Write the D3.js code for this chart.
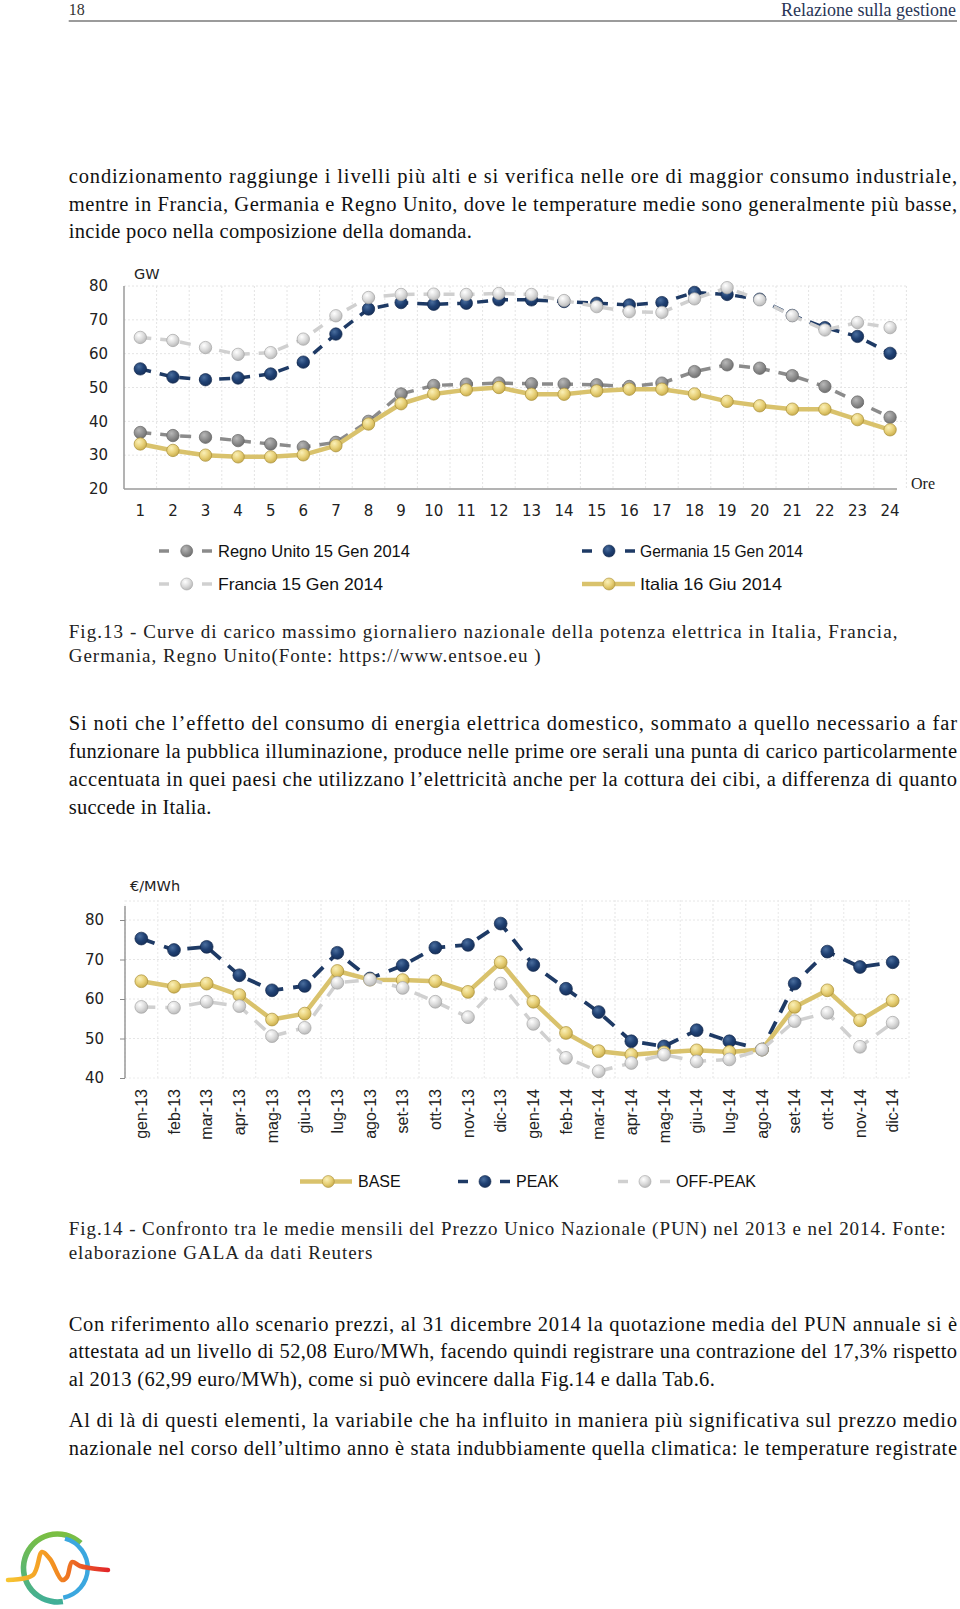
<!DOCTYPE html>
<html><head><meta charset="utf-8">
<script src="https://cdn.jsdelivr.net/npm/d3@7"></script>
<style>body{margin:0;background:#fff}svg{display:block}</style>
</head><body>
<svg id="page" width="960" height="1609"></svg>
<script>
// ---------- DATA: chart 1 (hourly peak load, GW) ----------
const hours = [1,2,3,4,5,6,7,8,9,10,11,12,13,14,15,16,17,18,19,20,21,22,23,24];
const loadTicks = [20,30,40,50,60,70,80];
const ukLoad = [36.7,35.8,35.3,34.3,33.3,32.4,33.8,40.0,48.1,50.6,51.0,51.3,51.1,51.0,50.8,50.3,51.3,54.7,56.7,55.7,53.5,50.3,45.7,41.2];
const deLoad = [55.5,53.1,52.3,52.8,54.0,57.5,65.8,73.2,75.1,74.6,74.9,75.9,75.9,75.4,74.9,74.4,75.1,78.1,77.5,76.1,71.3,67.7,65.1,60.1];
const frLoad = [64.8,63.9,61.8,59.8,60.3,64.3,71.2,76.6,77.5,77.6,77.5,77.8,77.5,75.7,73.9,72.4,72.2,76.2,79.5,75.9,71.2,67.0,69.2,67.7];
const itLoad = [33.3,31.4,30.0,29.5,29.5,30.1,32.8,39.2,45.2,48.1,49.3,50.0,48.0,48.0,49.0,49.5,49.5,48.1,45.9,44.6,43.6,43.6,40.5,37.5];
const loadNames = ["Regno Unito 15 Gen 2014","Germania 15 Gen 2014","Francia 15 Gen 2014","Italia 16 Giu 2014"];

// ---------- DATA: chart 2 (PUN monthly averages, €/MWh) ----------
const months = ["gen-13","feb-13","mar-13","apr-13","mag-13","giu-13","lug-13","ago-13","set-13","ott-13","nov-13","dic-13","gen-14","feb-14","mar-14","apr-14","mag-14","giu-14","lug-14","ago-14","set-14","ott-14","nov-14","dic-14"];
const priceTicks = [40,50,60,70,80];
const basePrice = [64.5,63.1,63.9,61.0,54.8,56.3,67.1,64.9,64.8,64.5,61.8,69.3,59.3,51.4,46.8,45.9,46.5,47.0,46.6,47.2,58.0,62.2,54.6,59.6];
const peakPrice = [75.3,72.4,73.2,66.0,62.2,63.3,71.7,65.2,68.5,73.0,73.7,79.1,68.6,62.6,56.7,49.3,48.0,52.1,49.3,47.2,63.9,72.0,68.1,69.3];
const offPeakPrice = [58.0,57.8,59.3,58.2,50.6,52.7,64.1,64.9,62.8,59.3,55.4,63.9,53.7,45.1,41.7,43.8,45.9,44.2,44.7,47.2,54.4,56.5,47.9,54.0];
const priceNames = ["BASE","PEAK","OFF-PEAK"];

// ---------- TEXT ----------
const para1 = ["condizionamento raggiunge i livelli più alti e si verifica nelle ore di maggior consumo industriale,",
 "mentre in Francia, Germania e Regno Unito, dove le temperature medie sono generalmente più basse,",
 "incide poco nella composizione della domanda."];
const cap13 = ["Fig.13 - Curve di carico massimo giornaliero nazionale della potenza elettrica in Italia, Francia,",
 "Germania, Regno Unito(Fonte: https://www.entsoe.eu )"];
const para2 = ["Si noti che l’effetto del consumo di energia elettrica domestico, sommato a quello necessario a far",
 "funzionare la pubblica illuminazione, produce nelle prime ore serali una punta di carico particolarmente",
 "accentuata in quei paesi che utilizzano l’elettricità anche per la cottura dei cibi, a differenza di quanto",
 "succede in Italia."];
const cap14 = ["Fig.14 - Confronto tra le medie mensili del Prezzo Unico Nazionale (PUN) nel 2013 e nel 2014. Fonte:",
 "elaborazione GALA da dati Reuters"];
const para3 = ["Con riferimento allo scenario prezzi, al 31 dicembre 2014 la quotazione media del PUN annuale si è",
 "attestata ad un livello di 52,08 Euro/MWh, facendo quindi registrare una contrazione del 17,3% rispetto",
 "al 2013 (62,99 euro/MWh), come si può evincere dalla Fig.14 e dalla Tab.6."];
const para4 = ["Al di là di questi elementi, la variabile che ha influito in maniera più significativa sul prezzo medio",
 "nazionale nel corso dell’ultimo anno è stata indubbiamente quella climatica: le temperature registrate"];

const svg = d3.select("#page");
const defs = svg.append("defs");
const SERIF = "'Liberation Serif','Times New Roman',serif";
const SANS = "'Liberation Sans',Arial,sans-serif";
const WIDE = "'DejaVu Sans',sans-serif";

// glossy marker gradients
const styles = {
  yellow:{hi:"#faf0b8",mid:"#e8d179",lo:"#c9ad4c",stroke:"#a98f3a",line:"#d9c26c"},
  navy:{hi:"#4a6e9e",mid:"#1f4072",lo:"#16305a",stroke:"#142a4e",line:"#1e3a65"},
  grey:{hi:"#b8b8b8",mid:"#8f8f8f",lo:"#6f6f6f",stroke:"#666",line:"#8b8b8b"},
  light:{hi:"#ffffff",mid:"#dcdcdc",lo:"#b9b9b9",stroke:"#a5a5a5",line:"#d0d0d0"}
};
Object.entries(styles).forEach(([k,s])=>{
  const g = defs.append("radialGradient").attr("id","g-"+k).attr("cx","38%").attr("cy","32%").attr("r","70%");
  g.append("stop").attr("offset","0%").attr("stop-color",s.hi);
  g.append("stop").attr("offset","55%").attr("stop-color",s.mid);
  g.append("stop").attr("offset","100%").attr("stop-color",s.lo);
});

// ---------- page text ----------
function textLines(lines, x, y0, step, targets, size, family, color){
  lines.forEach((t,i)=>{
    const el = svg.append("text").attr("x",x).attr("y",y0+i*step)
      .attr("font-family",family).attr("font-size",size).attr("fill",color||"#111").text(t);
    const nat = el.node().getComputedTextLength();
    const target = targets[i]-x;
    el.attr("textLength",target).attr("lengthAdjust", nat<=target ? "spacing" : "spacingAndGlyphs");
  });
}
const R = 957;
// header
svg.append("text").attr("x",68.7).attr("y",15).attr("font-family",SERIF).attr("font-size",16).attr("fill","#333").text("18");
svg.append("text").attr("x",956).attr("y",15.5).attr("text-anchor","end").attr("font-family",SERIF).attr("font-size",18).attr("fill","#2a3656").text("Relazione sulla gestione");
svg.append("line").attr("x1",68.7).attr("x2",957).attr("y1",21).attr("y2",21).attr("stroke","#9b9b9b").attr("stroke-width",2);

textLines(para1,68.7,183,27.7,[R,R,471.8],20.5,SERIF);
textLines(cap13,68.7,638,24.3,[897.4,540.5],19,SERIF,"#222");
textLines(para2,68.7,729.5,28,[R,R,R,211.3],20.5,SERIF);
textLines(cap14,68.7,1234.5,24.5,[945.6,372.3],19,SERIF,"#222");
textLines(para3,68.7,1330.5,27.7,[R,R,714.8],20.5,SERIF);
textLines(para4,68.7,1427,27.7,[R,R],20.5,SERIF);

// ---------- helpers ----------
function drawSeries(g, xs, ys, vals, st, dashed, width, r){
  const line = d3.line().x((d,i)=>xs(i)).y(d=>ys(d));
  g.append("path").datum(vals).attr("d",line).attr("fill","none")
    .attr("stroke",styles[st].line).attr("stroke-width",width)
    .attr("stroke-dasharray",dashed||null).attr("stroke-linejoin","round");
  g.selectAll(null).data(vals).join("circle")
    .attr("cx",(d,i)=>xs(i)).attr("cy",d=>ys(d)).attr("r",r)
    .attr("fill","url(#g-"+st+")").attr("stroke",styles[st].stroke).attr("stroke-width",0.7);
}
function legendItem(g, x0, x1, cx, y, st, dashed, label, tx, r, lw, textLen, fam, fs){
  if(dashed){
    g.append("line").attr("x1",x0).attr("x2",x0+10).attr("y1",y).attr("y2",y).attr("stroke",styles[st].line).attr("stroke-width",lw);
    g.append("line").attr("x1",x1-10).attr("x2",x1).attr("y1",y).attr("y2",y).attr("stroke",styles[st].line).attr("stroke-width",lw);
  } else {
    g.append("line").attr("x1",x0).attr("x2",x1).attr("y1",y).attr("y2",y).attr("stroke",styles[st].line).attr("stroke-width",lw+1);
  }
  g.append("circle").attr("cx",cx).attr("cy",y).attr("r",r).attr("fill","url(#g-"+st+")").attr("stroke",styles[st].stroke).attr("stroke-width",0.6);
  const t = g.append("text").attr("x",tx).attr("y",y).attr("dy","0.36em").attr("font-family",fam).attr("font-size",fs).attr("fill","#111").text(label);
  if(textLen) t.attr("textLength",textLen).attr("lengthAdjust","spacingAndGlyphs");
}

// ---------- chart 1 ----------
{
  const g = svg.append("g");
  const x = d3.scaleBand().domain(hours).range([124,906.4]);
  const y = d3.scaleLinear().domain([20,80]).range([489,286]);
  const xc = i => x(hours[i]) + x.bandwidth()/2;
  g.selectAll(null).data(loadTicks.slice(1)).join("line")
    .attr("x1",124).attr("x2",906.4).attr("y1",d=>y(d)).attr("y2",d=>y(d))
    .attr("stroke","#e4e4e4").attr("stroke-dasharray","2,2");
  g.selectAll(null).data(hours).join("line")
    .attr("x1",d=>x(d)+x.bandwidth()).attr("x2",d=>x(d)+x.bandwidth()).attr("y1",y(80)).attr("y2",y(20))
    .attr("stroke","#e4e4e4").attr("stroke-dasharray","2,2");
  g.append("line").attr("x1",124).attr("x2",124).attr("y1",y(80)).attr("y2",y(20)).attr("stroke","#9a9a9a").attr("stroke-width",1.5);
  g.append("line").attr("x1",124).attr("x2",897).attr("y1",y(20)).attr("y2",y(20)).attr("stroke","#9a9a9a").attr("stroke-width",1.5);
  const yAxis = d3.axisLeft(y).tickValues(loadTicks).tickSize(0).tickPadding(16);
  const ya = g.append("g").attr("transform","translate(124,0)").call(yAxis);
  ya.select(".domain").remove();
  ya.selectAll("text").attr("font-family",WIDE).attr("font-size",15).attr("fill","#222");
  const xAxis = d3.axisBottom(x).tickSize(0).tickPadding(0);
  const xa = g.append("g").attr("transform","translate(0,"+y(20)+")").call(xAxis);
  xa.select(".domain").remove();
  xa.selectAll("text").attr("y",22).attr("dy","0.36em").attr("font-family",WIDE).attr("font-size",15).attr("fill","#222");
  g.append("text").attr("x",134).attr("y",274).attr("dy","0.36em").attr("font-family",WIDE).attr("font-size",14.5).attr("fill","#222").text("GW");
  g.append("text").attr("x",911).attr("y",483).attr("dy","0.36em").attr("font-family",SERIF).attr("font-size",16).attr("fill","#222").text("Ore");
  drawSeries(g, xc, y, ukLoad, "grey", "11,9", 3.5, 6.2);
  drawSeries(g, xc, y, deLoad, "navy", "11,9", 3.5, 6.2);
  drawSeries(g, xc, y, frLoad, "light", "11,9", 3.5, 6.2);
  drawSeries(g, xc, y, itLoad, "yellow", null, 4.5, 6.2);
  const lg = svg.append("g");
  legendItem(lg,159,212,186.7,551,"grey",true,loadNames[0],218,6,3.5,192,SANS,16.5);
  legendItem(lg,582,635,609,551,"navy",true,loadNames[1],640,6,3.5,163,SANS,16.5);
  legendItem(lg,159,212,186.7,584,"light",true,loadNames[2],218,6,3.5,165,SANS,16.5);
  legendItem(lg,582,635,609,584,"yellow",false,loadNames[3],640,6,3.5,142,SANS,16.5);
}

// ---------- chart 2 ----------
{
  const g = svg.append("g");
  const x = d3.scaleBand().domain(months).range([125,909]);
  const y = d3.scaleLinear().domain([40,80]).range([1078,920]);
  const xc = i => x(months[i]) + x.bandwidth()/2;
  const top = 900;
  g.selectAll(null).data(priceTicks.slice(1).concat([84.8])).join("line")
    .attr("x1",125).attr("x2",909).attr("y1",d=>y(d)).attr("y2",d=>y(d))
    .attr("stroke","#e6e6e6").attr("stroke-dasharray","2,2");
  g.selectAll(null).data(months).join("line")
    .attr("x1",d=>x(d)+x.bandwidth()).attr("x2",d=>x(d)+x.bandwidth()).attr("y1",top).attr("y2",y(40))
    .attr("stroke","#e6e6e6").attr("stroke-dasharray","2,2");
  g.selectAll(null).data(months).join("line")
    .attr("x1",d=>x(d)).attr("x2",d=>x(d)).attr("y1",top).attr("y2",y(40))
    .attr("stroke","#efefef").attr("stroke-dasharray","2,2");
  g.append("line").attr("x1",125).attr("x2",909).attr("y1",y(40)).attr("y2",y(40)).attr("stroke","#ececec").attr("stroke-dasharray","2,2");
  const yAxis = d3.axisLeft(y).tickValues(priceTicks).tickSize(5).tickPadding(16);
  const ya = g.append("g").attr("transform","translate(125,0)").call(yAxis);
  ya.select(".domain").attr("d","M0,906V"+y(40)).attr("stroke","#8a8a8a").attr("stroke-width",1.3);
  ya.selectAll(".tick line").attr("stroke","#8a8a8a");
  ya.selectAll("text").attr("font-family",WIDE).attr("font-size",15).attr("fill","#222");
  const xAxis = d3.axisBottom(x).tickSize(0);
  const xa = g.append("g").attr("transform","translate(0,"+y(40)+")").call(xAxis);
  xa.select(".domain").remove();
  xa.selectAll("text").attr("transform","rotate(-90)").attr("x",-11).attr("y",0).attr("dy","0.36em")
    .attr("text-anchor","end").attr("font-family",SANS).attr("font-size",16).attr("fill","#222");
  g.append("text").attr("x",130).attr("y",886).attr("dy","0.36em").attr("font-family",WIDE).attr("font-size",14.5).attr("fill","#222").text("€/MWh");
  drawSeries(g, xc, y, peakPrice, "navy", "14,10", 3.8, 6.4);
  drawSeries(g, xc, y, basePrice, "yellow", null, 4.5, 6.4);
  drawSeries(g, xc, y, offPeakPrice, "light", "14,10", 3.5, 6.4);
  const lg = svg.append("g");
  legendItem(lg,300,352,328.3,1181.5,"yellow",false,priceNames[0],358,6,3.5,null,SANS,16);
  legendItem(lg,458,510,485,1181.5,"navy",true,priceNames[1],516,6,3.5,null,SANS,16);
  legendItem(lg,618,670,645,1181.5,"light",true,priceNames[2],676,6,3.5,null,SANS,16);
}

// ---------- logo (decoration) ----------
{
  const lg = svg.append("g");
  const gr1 = defs.append("linearGradient").attr("id","lg-green").attr("x1","0").attr("y1","0").attr("x2","0").attr("y2","1");
  gr1.append("stop").attr("offset","0%").attr("stop-color","#7cbf3f");
  gr1.append("stop").attr("offset","100%").attr("stop-color","#3fae9a");
  const gr2 = defs.append("linearGradient").attr("id","lg-zig").attr("x1","0").attr("y1","0").attr("x2","1").attr("y2","0");
  gr2.append("stop").attr("offset","0%").attr("stop-color","#f7c531");
  gr2.append("stop").attr("offset","45%").attr("stop-color","#f39221");
  gr2.append("stop").attr("offset","100%").attr("stop-color","#e2262a");
  const cx=57.5, cy=1568, rr=34;
  const arc = d3.arc().innerRadius(rr-2.8).outerRadius(rr+2.8);
  lg.append("path").attr("transform",`translate(${cx},${cy})`)
    .attr("d",arc({startAngle:-3.3,endAngle:0.75})).attr("fill","url(#lg-green)");
  lg.append("path").attr("transform",`translate(${cx},${cy})`)
    .attr("d",d3.arc().innerRadius(rr-6).outerRadius(rr-1.5)({startAngle:0.25,endAngle:2.95})).attr("fill","#3ba7df");
  const zig = [[8,1580],[33,1575],[42,1552],[50,1559],[62,1580],[67,1577],[72,1562],[80,1566],[90,1568],[108,1570]];
  lg.append("path").attr("d",d3.line().curve(d3.curveCatmullRom)(zig)).attr("fill","none")
    .attr("stroke","url(#lg-zig)").attr("stroke-width",4.5).attr("stroke-linecap","round");
}
</script>
</body></html>
